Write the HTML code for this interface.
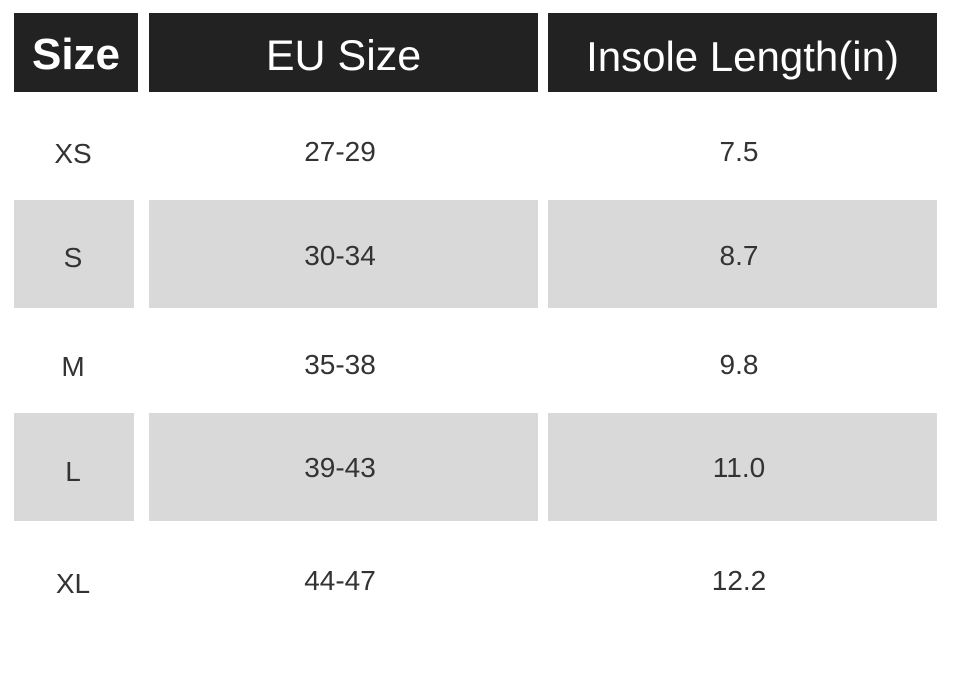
<!DOCTYPE html>
<html><head><style>
body{margin:0;width:954px;height:675px;background:#fff;position:relative;overflow:hidden;font-family:"Liberation Sans","Noto Sans CJK SC",sans-serif}
.b{position:absolute;display:flex;align-items:center;justify-content:center}
.h{background:#222;color:#fff;top:13px;height:79px;font-size:43px;box-sizing:border-box;padding-top:8px}
.g{background:#d9d9d9}
.t{position:absolute;color:#333;font-size:28px;text-align:center;transform:translate(-50%,-50%)}
</style></head><body>
<div class="b h" style="left:14px;width:124px;font-size:44px;font-weight:bold;padding-top:4px">Size</div>
<div class="b h" style="left:149px;width:389px">EU Size</div>
<div class="b h" style="left:548px;width:389px;font-size:42px">Insole Length(in)</div>

<div class="b g" style="left:14px;width:120px;top:200px;height:108px"></div>
<div class="b g" style="left:149px;width:389px;top:200px;height:108px"></div>
<div class="b g" style="left:548px;width:389px;top:200px;height:108px"></div>
<div class="b g" style="left:14px;width:120px;top:413px;height:108px"></div>
<div class="b g" style="left:149px;width:389px;top:413px;height:108px"></div>
<div class="b g" style="left:548px;width:389px;top:413px;height:108px"></div>

<div class="t" style="left:73px;top:154px">XS</div>
<div class="t" style="left:340px;top:152px">27-29</div>
<div class="t" style="left:739px;top:152px">7.5</div>
<div class="t" style="left:73px;top:258px">S</div>
<div class="t" style="left:340px;top:256px">30-34</div>
<div class="t" style="left:739px;top:256px">8.7</div>
<div class="t" style="left:73px;top:367px">M</div>
<div class="t" style="left:340px;top:365px">35-38</div>
<div class="t" style="left:739px;top:365px">9.8</div>
<div class="t" style="left:73px;top:472px">L</div>
<div class="t" style="left:340px;top:468px">39-43</div>
<div class="t" style="left:739px;top:468px">11.0</div>
<div class="t" style="left:73px;top:584px">XL</div>
<div class="t" style="left:340px;top:581px">44-47</div>
<div class="t" style="left:739px;top:581px">12.2</div>
</body></html>
